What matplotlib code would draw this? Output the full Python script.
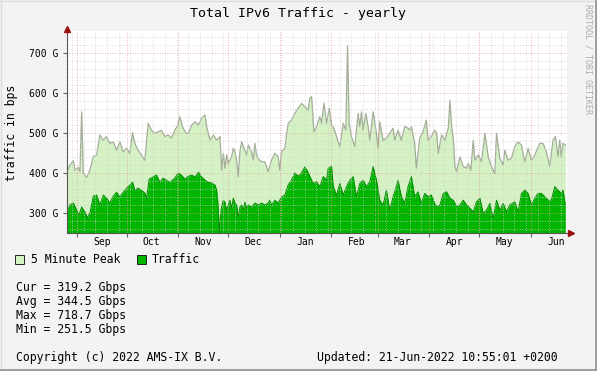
import numpy as np
import pandas as pd
import matplotlib
matplotlib.use("Agg")
import matplotlib.pyplot as plt
from matplotlib.patches import Rectangle

START = pd.Timestamp("2021-08-26")

# day offsets from START and values in Gbps
traffic_days = [0, 1.8, 3.8, 5.8, 7.2, 8.8, 10.8, 12.2, 13.8, 15.8, 17.8, 19.8, 21.8, 23.8, 25.8, 27.8,
                29.8, 31.8, 33.8, 35.8, 37.8, 39.4, 40.8, 42.8, 44.8, 46.8, 47.8, 49.4, 51.8, 53.8, 55.8,
                57.8, 59.8, 61.8, 64.8, 66.8, 68.8, 70.8, 73, 75, 77, 79, 81, 83, 85, 87, 89, 90, 91,
                91.6, 92.6, 94, 95, 96, 97, 98, 99, 100, 101, 102, 103, 104, 105, 106, 107, 108, 109,
                111, 113, 115, 117, 119, 121, 122, 123, 125, 127, 129, 131, 133, 135, 137, 139, 141,
                143, 145, 146.1, 148.1, 150.1, 152.1, 154.1, 156.1, 157.1, 159.1, 160.1, 162.1, 164.1,
                166.1, 168.1, 170.1, 172.1, 174.1, 176.1, 178.1, 180.1, 182.1, 184.1, 186.1, 188.1,
                190.1, 192.1, 194.1, 196.1, 198.1, 199.1, 201.1, 203.1, 205.1, 207.1, 209.1, 211.1,
                213.1, 215.1, 217.1, 219.1, 221.1, 222.3, 224.3, 226.3, 228.3, 230.3, 232.3, 234.3,
                236.3, 238.3, 240.3, 242.3, 244.3, 246.3, 248.3, 250.3, 252.3, 254.3, 256.3, 258.3,
                260.3, 262.3, 264.3, 266.3, 269.3, 271.3, 273.3, 275.3, 277.3, 279.3, 281.3, 283.3,
                285.3, 287.3, 289.3, 291.3, 293.3, 295.3, 297.3, 298.3, 299.7]
traffic = [303, 320, 325, 307, 295, 315, 303, 288, 300, 342, 345, 320, 345, 337, 325, 342,
           352, 340, 352, 362, 370, 377, 357, 362, 357, 350, 337, 385, 390, 395, 377,
           387, 382, 377, 387, 400, 395, 385, 392, 395, 390, 402, 390, 382, 377, 375, 370, 357, 312,
           251.5, 307, 332, 327, 307, 320, 332, 312, 337, 325, 320, 290, 315, 320, 307, 327, 312, 320,
           315, 325, 320, 325, 320, 325, 332, 320, 332, 325, 340, 345, 370, 382, 400, 392, 400,
           415, 402, 391, 374, 378, 366, 391, 382, 412, 416, 366, 345, 374,
           345, 366, 382, 391, 341, 374, 382, 366, 378, 416, 382, 332,
           320, 357, 307, 341, 366, 382, 341, 324, 366, 391, 341, 353,
           324, 349, 341, 345, 324, 315, 320, 349, 353, 337, 332, 316,
           320, 332, 320, 312, 303, 328, 337, 299, 307, 324, 287, 332,
           307, 324, 303, 320, 328, 303, 349, 357, 349, 320, 337, 349,
           349, 341, 332, 332, 366, 357, 349, 357, 319.2]

peak_days = [0, 1.8, 3.8, 4.8, 6.8, 7.8, 8.8, 9.8, 11.8, 13.8, 15.8, 17.8, 19.8, 21.8, 23.8, 25.8,
             27.8, 29.8, 31.8, 33.8, 35.8, 37.8, 39.4, 40.8, 42.8, 44.8, 46.8, 48.8, 50.8, 52.8,
             54.8, 56.8, 58.8, 60.8, 62.8, 64.8, 66.8, 67.8, 69.8, 71.8, 73, 75, 77, 79, 81, 83, 84,
             86, 88, 90, 92, 93, 94, 95, 96, 97, 99, 100, 101, 102, 103, 104, 105, 107, 108, 109,
             111, 112, 113, 114, 115, 117, 119, 121, 123, 125, 127, 128, 129, 131, 133, 135, 137,
             139, 141, 143, 145, 146.1, 147.1, 148.5, 150.1, 152.1, 153.1, 154.5, 156.1, 157.7,
             159.1, 160.5, 162.1, 164.1, 166.1, 167.7, 168.7, 169.7, 171.1, 173.1, 175.1, 176.1,
             177.1, 178.1, 179.7, 181.1, 182.1, 184.1, 186.1, 187.1, 188.1, 190.1, 192.1, 194.1,
             196.1, 197.1, 199.1, 201.1, 203.1, 205.1, 206.1, 207.1, 209.1, 210.1, 212.1, 214.1,
             216.1, 217.1, 219.1, 221.1, 222.3, 223.3, 225.3, 227.3, 229.3, 230.3, 231.3, 232.3,
             233.3, 234.3, 236.3, 238.3, 240.3, 241.3, 242.9, 244.3, 245.3, 247.3, 249.3, 251.3,
             253.3, 255.3, 257.3, 258.3, 260.3, 262.3, 263.3, 265.3, 267.3, 269.3, 271.3, 273.3,
             275.3, 277.3, 279.3, 281.3, 284.3, 286.3, 288.3, 290.3, 292.3, 293.7, 295.3, 296.3,
             297.3, 298.3, 299.7]
peak = [403, 420, 431, 407, 414, 403, 553, 399, 389, 407, 441, 445, 495, 482, 491, 474,
        478, 457, 478, 453, 462, 449, 501, 474, 457, 445, 432, 524, 507, 499,
        503, 507, 491, 495, 487, 507, 520, 541, 512, 499, 499, 520, 528, 520, 537, 545, 516,
        482, 495, 482, 491, 407, 449, 412, 445, 424, 441, 462, 453, 432, 391, 453, 478, 457, 445, 470,
        453, 432, 474, 445, 436, 428, 428, 403, 432, 449, 441, 407, 453, 462, 524, 532, 549,
        562, 574, 566, 557, 587, 591, 503, 516, 541, 524, 574, 524, 562,
        520, 512, 491, 466, 524, 507, 718.7, 524, 491, 466, 549, 516,
        553, 507, 549, 516, 482, 553, 499, 462, 528, 482, 487, 499,
        512, 482, 507, 482, 516, 512, 507, 516, 474, 412, 487, 503,
        532, 482, 491, 507, 499, 449, 495, 482, 512, 582, 516, 487,
        416, 403, 441, 416, 412, 424, 407, 482, 432, 445, 428, 499,
        441, 416, 399, 499, 437, 420, 457, 432, 437, 466, 478, 470,
        428, 462, 432, 445, 474, 474, 453, 416, 482, 491, 441, 482,
        441, 474, 470]

stats = ["Cur = 319.2 Gbps", "Avg = 344.5 Gbps", "Max = 718.7 Gbps", "Min = 251.5 Gbps"]
months = ["Sep", "Oct", "Nov", "Dec", "Jan", "Feb", "Mar", "Apr", "May", "Jun"]

W, H = 597, 371
BG = "#f3f3f3"
MONO = "DejaVu Sans Mono"


def fx(px):
    return px / W


def fy(py):
    return 1 - py / H


fig = plt.figure(figsize=(W / 100, H / 100), dpi=100, facecolor=BG)
ax = fig.add_axes([fx(67), fy(233), 500 / W, 202 / H])
ax.set_facecolor("white")

tx = START + pd.to_timedelta(traffic_days, unit="D")
px = START + pd.to_timedelta(peak_days, unit="D")

ax.fill_between(px, 0, peak, color="#d4f2c4", lw=0, zorder=1)
ax.plot(px, peak, color="#a3ad98", lw=0.9, zorder=1.5)
ax.fill_between(tx, 0, traffic, color="#00b500", lw=0, zorder=1.6)
ax.plot(tx, traffic, color="#008a00", lw=0.7, zorder=1.7)

x0 = START
x1 = START + pd.Timedelta(days=300.7)
ax.set_xlim(x0, x1)
ax.set_ylim(250, 755)

# grid
for v in range(260, 760, 20):
    if v % 100:
        ax.axhline(v, color="#cfcfcf", lw=0.6, ls=(0, (1, 2)), zorder=2)
for d in pd.date_range("2021-08-29", x1, freq="W-SUN"):
    ax.axvline(d, color="#cfcfcf", lw=0.6, ls=(0, (1, 2)), zorder=2)
month_starts = pd.date_range("2021-09-01", x1, freq="MS")
for d in month_starts:
    ax.axvline(d, color="#e69a9a", lw=0.6, ls=(0, (1, 2)), zorder=2.1)
for v in range(300, 760, 100):
    ax.axhline(v, color="#e69a9a", lw=0.6, ls=(0, (1, 2)), zorder=2.1)

ax.set_yticks(range(300, 760, 100))
ax.set_yticklabels([f"{v} G" for v in range(300, 760, 100)], fontfamily=MONO, fontsize=7)
ax.set_xticks(month_starts)
ax.set_xticklabels([])
mids = month_starts + pd.Timedelta(days=15)
ax.set_xticks(mids, minor=True)
ax.set_xticklabels(months, minor=True, fontfamily=MONO, fontsize=7)
ax.tick_params(axis="x", which="major", length=3, color="#666666", direction="out")
ax.tick_params(axis="x", which="minor", length=0, pad=3)
ax.tick_params(axis="y", length=3, color="#666666", pad=3)

for s in ["top", "right"]:
    ax.spines[s].set_visible(False)
for s in ["left", "bottom"]:
    ax.spines[s].set_color("#555555")
    ax.spines[s].set_linewidth(0.8)
    ax.spines[s].set_zorder(3)

# axis arrows
ax.plot([0], [1.01], marker="^", ms=4.5, color="#991111", transform=ax.transAxes, clip_on=False, zorder=4)
ax.plot([1.008], [0], marker=">", ms=4.5, color="#991111", transform=ax.transAxes, clip_on=False, zorder=4)

fig.text(fx(298), fy(14), "Total IPv6 Traffic - yearly", fontfamily=MONO, fontsize=9.5,
         ha="center", va="center")
fig.text(fx(12), fy(133), "traffic in bps", fontfamily=MONO, fontsize=8.3, rotation=90,
         ha="center", va="center")
fig.text(fx(588), fy(4), "RRDTOOL / TOBI OETIKER", fontfamily=MONO, fontsize=6, rotation=270,
         ha="center", va="top", color="#aaaaaa")

# legend
fig.patches.append(Rectangle((fx(15), fy(264)), 9 / W, 9 / H, transform=fig.transFigure,
                             facecolor="#d4f2c4", edgecolor="#222222", lw=0.7))
fig.text(fx(31), fy(259.5), "5 Minute Peak", fontfamily=MONO, fontsize=8.3, va="center")
fig.patches.append(Rectangle((fx(137), fy(264)), 9 / W, 9 / H, transform=fig.transFigure,
                             facecolor="#00b500", edgecolor="#222222", lw=0.7))
fig.text(fx(152), fy(259.5), "Traffic", fontfamily=MONO, fontsize=8.3, va="center")

for i, s in enumerate(stats):
    fig.text(fx(16), fy(287.5 + 14 * i), s, fontfamily=MONO, fontsize=8.3, va="center")

fig.text(fx(16), fy(357), "Copyright (c) 2022 AMS-IX B.V.", fontfamily=MONO, fontsize=8.3, va="center")
fig.text(fx(317), fy(357), "Updated: 21-Jun-2022 10:55:01 +0200", fontfamily=MONO, fontsize=8.3,
         va="center")

# frame
fig.lines.append(plt.Line2D([0, 1], [fy(0.5), fy(0.5)], transform=fig.transFigure, color="#dcdcdc", lw=1))
fig.lines.append(plt.Line2D([fx(0.5), fx(0.5)], [0, 1], transform=fig.transFigure, color="#dcdcdc", lw=1))
fig.lines.append(plt.Line2D([0, 1], [fy(370), fy(370)], transform=fig.transFigure, color="#9a9a9a", lw=2))
fig.lines.append(plt.Line2D([fx(596), fx(596)], [0, 1], transform=fig.transFigure, color="#9a9a9a", lw=2))

fig.savefig("out.png", dpi=100, facecolor=BG)
